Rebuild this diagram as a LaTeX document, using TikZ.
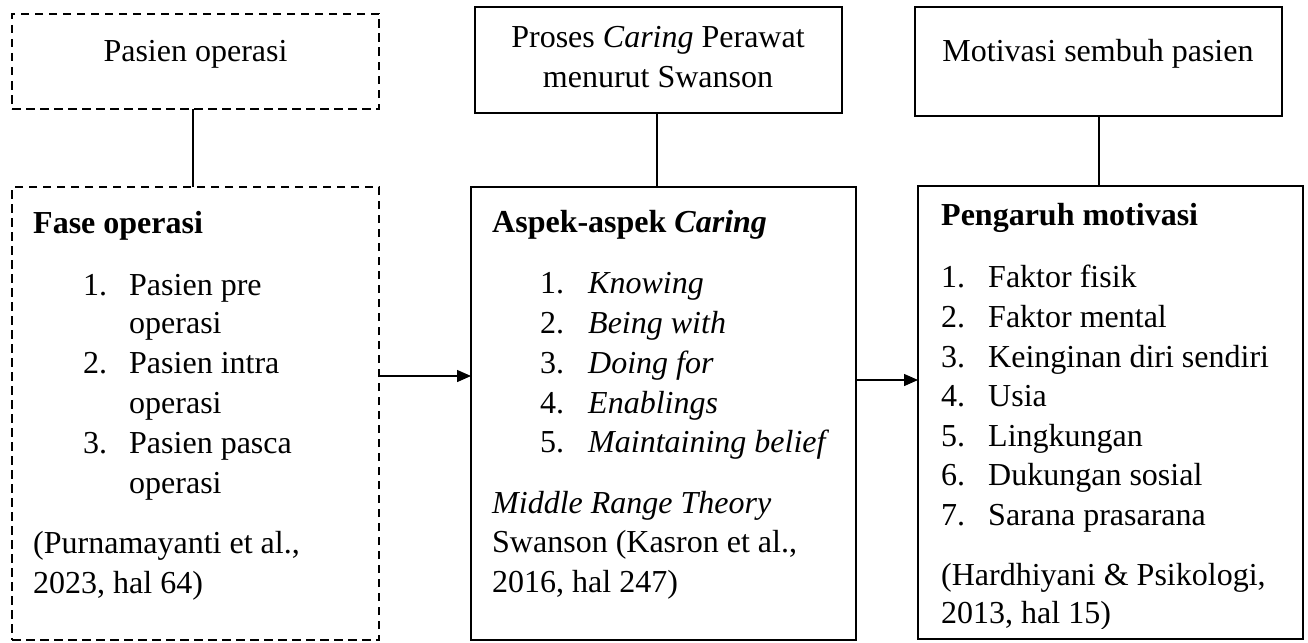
\documentclass[tikz,border=0pt]{standalone}
\usepackage{fontspec}
\setmainfont{Liberation Serif}
\usetikzlibrary{arrows.meta}
\begin{document}
\begin{tikzpicture}[x=1pt,y=-1pt,
  box/.style={draw, line width=2.6pt, inner sep=0pt, outer sep=0pt, anchor=north west},
  dbox/.style={box, dash pattern=on 8.5pt off 5.5pt},
  txt/.style={anchor=base west, inner sep=0pt, font=\fontsize{32}{40}\selectfont},
  ctxt/.style={txt, anchor=base},
  link/.style={line width=1.4pt},
  arr/.style={link, -{Triangle[length=14pt,width=12pt]}}]
\useasboundingbox (0,0) rectangle (1308,642);

% boxes
\node[dbox, minimum width=367pt, minimum height=95pt] (A) at (12,14) {};
\node[dbox, minimum width=367pt, minimum height=453pt] (B) at (12,187) {};
\node[box, minimum width=367pt, minimum height=106pt] (C) at (475,7) {};
\node[box, minimum width=385pt, minimum height=453pt] (D) at (471,187) {};
\node[box, minimum width=367pt, minimum height=109pt] (E) at (915,7) {};
\node[box, minimum width=385pt, minimum height=453pt] (F) at (918,186) {};

% top texts
\node[ctxt] (ta) at (195.5,61) {Pasien operasi};
\node[ctxt] (tc1) at (658,48) {Proses \textit{Caring} Perawat};
\node[ctxt] (tc2) at (658,88) {menurut Swanson};
\node[ctxt] (te) at (1098,62) {Motivasi sembuh pasien};

% box B
\node[txt] (bh) at (33,233) {\textbf{Fase operasi}};
\node[txt] (bn1) at (83,295) {1.};
\node[txt] (bi1) at (129,295) {Pasien pre};
\node[txt] (bi1b) at (129,333) {operasi};
\node[txt] (bn2) at (83,373) {2.};
\node[txt] (bi2) at (129,373) {Pasien intra};
\node[txt] (bi2b) at (129,413) {operasi};
\node[txt] (bn3) at (83,453) {3.};
\node[txt] (bi3) at (129,453) {Pasien pasca};
\node[txt] (bi3b) at (129,493) {operasi};
\node[txt] (bc1) at (33,553) {(Purnamayanti et al.,};
\node[txt] (bc2) at (33,593) {2023, hal 64)};

% box D
\node[txt] (dh) at (492,232) {\textbf{Aspek-aspek \textit{Caring}}};
\node[txt] (dn1) at (540,293) {1.};
\node[txt] (di1) at (588,293) {\textit{Knowing}};
\node[txt] (dn2) at (540,333) {2.};
\node[txt] (di2) at (588,333) {\textit{Being with}};
\node[txt] (dn3) at (540,373) {3.};
\node[txt] (di3) at (588,373) {\textit{Doing for}};
\node[txt] (dn4) at (540,413) {4.};
\node[txt] (di4) at (588,413) {\textit{Enablings}};
\node[txt] (dn5) at (540,452) {5.};
\node[txt] (di5) at (588,452) {\textit{Maintaining belief}};
\node[txt] (dc1) at (492,513) {\textit{Middle Range Theory}};
\node[txt] (dc2) at (492,552) {Swanson (Kasron et al.,};
\node[txt] (dc3) at (492,592) {2016, hal 247)};

% box F
\node[txt] (fh) at (941,225) {\textbf{Pengaruh motivasi}};
\node[txt] (fn1) at (941,287) {1.};
\node[txt] (fi1) at (988,287) {Faktor fisik};
\node[txt] (fn2) at (941,327) {2.};
\node[txt] (fi2) at (988,327) {Faktor mental};
\node[txt] (fn3) at (941,367) {3.};
\node[txt] (fi3) at (988,367) {Keinginan diri sendiri};
\node[txt] (fn4) at (941,406) {4.};
\node[txt] (fi4) at (988,406) {Usia};
\node[txt] (fn5) at (941,446) {5.};
\node[txt] (fi5) at (988,446) {Lingkungan};
\node[txt] (fn6) at (941,485) {6.};
\node[txt] (fi6) at (988,485) {Dukungan sosial};
\node[txt] (fn7) at (941,525) {7.};
\node[txt] (fi7) at (988,525) {Sarana prasarana};
\node[txt] (fc1) at (941,585) {(Hardhiyani \& Psikologi,};
\begin{scope}
\clip (918,595) rectangle (1303,628);
\node[txt] (fc2) at (941,623) {2013, hal 15)};
\end{scope}

% connectors
\coordinate (xa) at (193,0);
\coordinate (xc) at (657,0);
\coordinate (xe) at (1099,0);
\draw[link] (A.south -| xa) -- (B.north -| xa);
\draw[link] (C.south -| xc) -- (D.north -| xc);
\draw[link] (E.south -| xe) -- (F.north -| xe);
\coordinate (ya) at (0,376);
\coordinate (yb) at (0,380);
\draw[arr] (B.east |- ya) -- (D.west |- ya);
\draw[arr] (D.east |- yb) -- (F.west |- yb);
\end{tikzpicture}
\end{document}
